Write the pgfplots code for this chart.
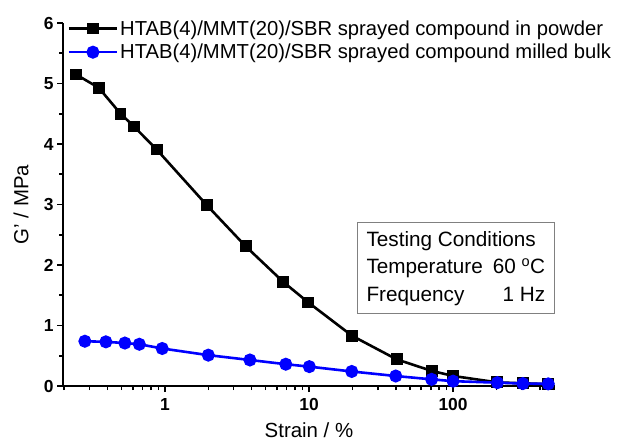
\documentclass[border=0pt]{standalone}
\usepackage{fontspec}
\setmainfont{Liberation Sans}
\usepackage{pgfplots}
\pgfplotsset{compat=1.18}
\definecolor{myblue}{RGB}{0,0,255}
\begin{document}
\begin{tikzpicture}
\begin{axis}[
  name=ax,
  scale only axis, width=492bp, height=363bp,
  xmode=log, xmin=0.196, xmax=510, ymin=0, ymax=6,
  axis lines*=left,
  axis line style={line width=2bp},
  ytick={0,1,2,3,4,5,6},
  minor ytick={0.5,1.5,2.5,3.5,4.5,5.5},
  xtick={1,10,100}, xticklabels={1,10,100},
  minor xtick={0.2,0.3,0.4,0.5,0.6,0.7,0.8,0.9,2,3,4,5,6,7,8,9,20,30,40,50,60,70,80,90,200,300,400,500},
  tick align=outside,
  major tick length=6bp, minor tick length=4bp,
  every tick/.style={black, line width=1.6bp},
  tick label style={font=\fontsize{17.5}{20}\selectfont\bfseries},
  xticklabel style={yshift=-3bp},
  /pgf/number format/assume math mode=true,
  xlabel={Strain / \%}, ylabel={G' / MPa},
  xlabel style={at={(axis description cs:0.5,-0.121)}, anchor=center, font=\fontsize{20.5}{24}\selectfont},
  ylabel style={at={(axis description cs:-0.0854,0.5)}, anchor=center, font=\fontsize{20.5}{24}\selectfont},
  clip=false,
  legend cell align=left,
  legend style={at={(0.009,1.013)}, anchor=north west, draw=none, fill=none,
    font=\fontsize{20.3}{24}\selectfont, row sep=3.5bp, inner sep=0pt},
  legend image code/.code={\draw[mark repeat=2,mark phase=2] plot coordinates {(0bp,0bp)(24bp,0bp)(48bp,0bp)};},
]
\addplot[black, line width=2.6bp, mark=square*, mark size=4.6bp, mark options={solid}] coordinates {
(0.241,5.15)(0.347,4.93)(0.492,4.50)(0.609,4.29)(0.875,3.91)(1.95,2.99)(3.63,2.31)(6.63,1.72)(9.9,1.38)(19.9,0.83)(40.6,0.44)(71,0.25)(100.5,0.165)(203,0.06)(305,0.045)(458,0.03)};
\addlegendentry{HTAB(4)/MMT(20)/SBR sprayed compound in powder}
\addplot[myblue, line width=2.6bp, mark=*, mark size=5.2bp, mark options={solid}] coordinates {
(0.278,0.74)(0.389,0.73)(0.527,0.71)(0.664,0.69)(0.957,0.62)(2.0,0.51)(3.89,0.43)(6.9,0.36)(10.05,0.32)(19.8,0.24)(40,0.165)(71,0.11)(100,0.08)(203,0.055)(305,0.04)(458,0.035)};
\addlegendentry{HTAB(4)/MMT(20)/SBR sprayed compound milled bulk}
\node[draw=gray, line width=1bp, anchor=north west, inner xsep=9bp, inner ysep=4.5bp,
  font=\fontsize{20.8}{27.5}\selectfont, align=left] at (rel axis cs:0.5976,0.4517)
  {\begin{tabular}{@{}l@{\hspace{10bp}}r@{}}
   \multicolumn{2}{@{}l@{}}{Testing Conditions}\\
   Temperature & 60 \textsuperscript{o}C\\
   Frequency & 1 Hz
   \end{tabular}};
\end{axis}
\path (ax.south west) ++(-63bp,-56bp) rectangle ++(624bp,442bp);
\end{tikzpicture}
\end{document}
